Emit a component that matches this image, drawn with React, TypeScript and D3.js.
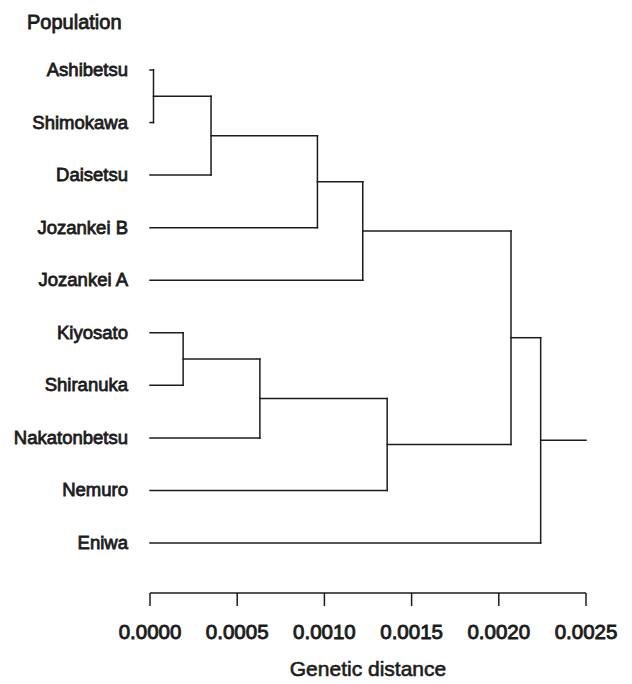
import React from "react";
import * as d3 from "d3";

// leaf order, top to bottom
const leaves = [
  "Ashibetsu",
  "Shimokawa",
  "Daisetsu",
  "Jozankei B",
  "Jozankei A",
  "Kiyosato",
  "Shiranuka",
  "Nakatonbetsu",
  "Nemuro",
  "Eniwa",
];

// clusters: [left child, right child, joining distance]; each new node is named n1, n2, ...
const joins: [string, string, number][] = [
  ["Ashibetsu", "Shimokawa", 0.00002],
  ["n1", "Daisetsu", 0.00035],
  ["n2", "Jozankei B", 0.00096],
  ["n3", "Jozankei A", 0.00122],
  ["Kiyosato", "Shiranuka", 0.00019],
  ["n5", "Nakatonbetsu", 0.00063],
  ["n6", "Nemuro", 0.00136],
  ["n4", "n7", 0.00207],
  ["n8", "Eniwa", 0.00224],
];

const rootEnd = 0.0025;
const tickValues = [0, 0.0005, 0.001, 0.0015, 0.002, 0.0025];

const width = 632;
const height = 684;
const font = "'Liberation Sans', Arial, Helvetica, sans-serif";
const ink = "#1c1c1c";

export default function App() {
  const x = d3.scaleLinear().domain([0, 0.0025]).range([150, 586]);
  const y = d3.scalePoint<string>().domain(leaves).range([70, 543]);

  // positions of every node
  const pos: Record<string, { d: number; y: number }> = {};
  leaves.forEach((l) => (pos[l] = { d: 0, y: y(l) as number }));

  const segs: { x1: number; y1: number; x2: number; y2: number }[] = [];
  joins.forEach(([a, b, h], i) => {
    const pa = pos[a];
    const pb = pos[b];
    const ny = (pa.y + pb.y) / 2;
    segs.push({ x1: x(pa.d), y1: pa.y, x2: x(h), y2: pa.y });
    segs.push({ x1: x(pb.d), y1: pb.y, x2: x(h), y2: pb.y });
    segs.push({ x1: x(h), y1: pa.y, x2: x(h), y2: pb.y });
    pos["n" + (i + 1)] = { d: h, y: ny };
  });
  const root = pos["n" + joins.length];
  segs.push({ x1: x(root.d), y1: root.y, x2: x(rootEnd), y2: root.y });

  const axisY = 593;

  return (
    <svg
      width={width}
      height={height}
      style={{ position: "absolute", left: 0, top: 0, background: "#fff" }}
      fontFamily={font}
    >
      <text x={27} y={29} fontSize={20} fill={ink} stroke={ink} strokeWidth={0.8}>
        Population
      </text>

      {leaves.map((l) => (
        <text
          key={l}
          x={128}
          y={(y(l) as number) + 6}
          textAnchor="end"
          fontSize={18.5}
          fill={ink}
          stroke={ink}
          strokeWidth={0.8}
        >
          {l}
        </text>
      ))}

      <g stroke={ink} strokeWidth={1.5} strokeLinecap="square">
        {segs.map((s, i) => (
          <line key={i} x1={s.x1} y1={s.y1} x2={s.x2} y2={s.y2} />
        ))}
      </g>

      {/* distance axis */}
      <g stroke={ink} strokeWidth={1.5}>
        <line x1={x(0)} x2={x(0.0025)} y1={axisY} y2={axisY} />
        {tickValues.map((t) => (
          <line key={t} x1={x(t)} x2={x(t)} y1={axisY} y2={axisY + 13} />
        ))}
      </g>
      {tickValues.map((t) => (
        <text
          key={t}
          x={x(t)}
          y={639}
          textAnchor="middle"
          fontSize={20.5}
          fill={ink}
          stroke={ink}
          strokeWidth={0.9}
        >
          {d3.format(".4f")(t)}
        </text>
      ))}
      <text
        x={(x(0) + x(0.0025)) / 2}
        y={676}
        textAnchor="middle"
        fontSize={21}
        fill={ink}
        stroke={ink}
        strokeWidth={0.6}
      >
        Genetic distance
      </text>
    </svg>
  );
}
